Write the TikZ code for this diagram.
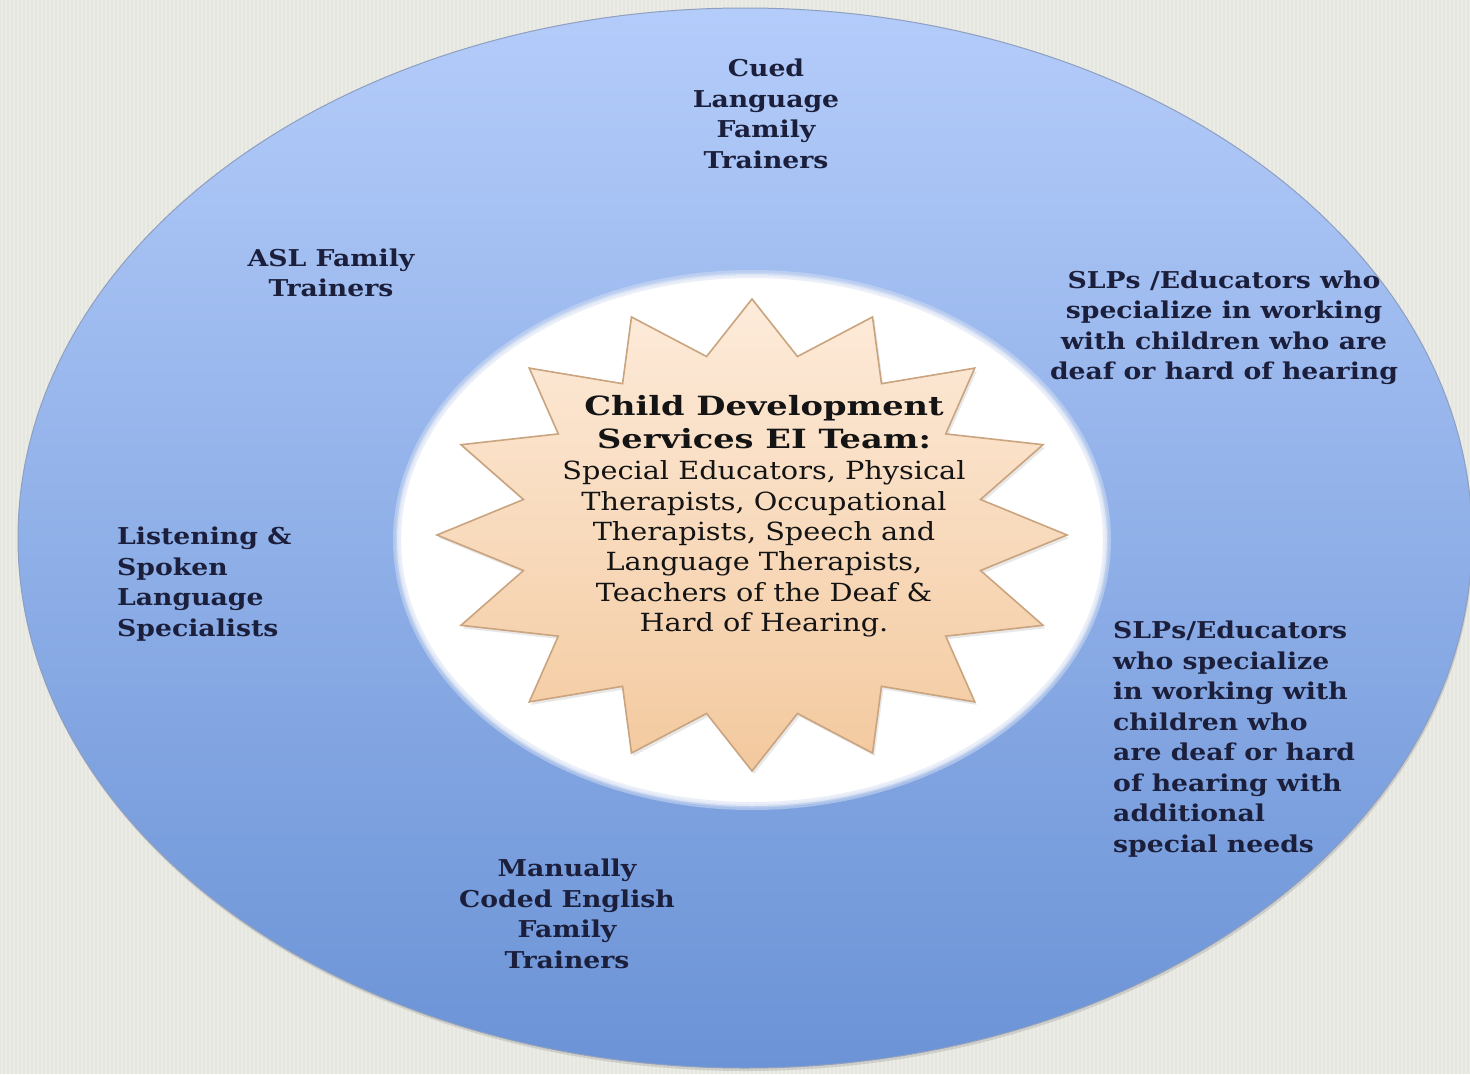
\documentclass[tikz,border=0pt]{standalone}
\usepackage{fontspec}
\setmainfont[FakeStretch=1.15]{DejaVu Serif}
\newfontfamily\titlefont[FakeStretch=1.27]{DejaVu Serif}
\usetikzlibrary{shadows}
\definecolor{bgcol}{HTML}{ECECE6}
\definecolor{outertop}{HTML}{B4CCFA}
\definecolor{outerbot}{HTML}{6B93D6}
\definecolor{outeredge}{HTML}{8E9FBF}
\definecolor{inneredge}{HTML}{D4DFF3}
\definecolor{startop}{HTML}{FDEBDA}
\definecolor{starbot}{HTML}{F3C99E}
\definecolor{staredge}{HTML}{C9A47F}
\definecolor{navy}{HTML}{1B1F3B}
\definecolor{inktext}{HTML}{141414}
\begin{document}
\begin{tikzpicture}[x=1pt,y=-1pt,
  outerlabel/.style={font=\fontsize{23.2}{30.5}\selectfont\bfseries, text=navy, inner sep=0pt},
  titlelabel/.style={font=\titlefont\fontsize{26.5}{33}\selectfont\bfseries, text=inktext, inner sep=0pt, align=center},
  bodylabel/.style={font=\fontsize{25}{30.4}\selectfont, text=inktext, inner sep=0pt, align=center},
  ring/.style={top color=outertop, bottom color=outerbot, draw=outeredge, line width=1pt,
    drop shadow={opacity=0.25, shadow xshift=1pt, shadow yshift=-3pt}},
  hole/.style={fill=white},
  holeglow/.style={draw=inneredge, line width=#1, opacity=0.5},
  starshape/.style={top color=startop, bottom color=starbot, draw=staredge, line width=1.6pt,
    drop shadow={opacity=0.18, shadow xshift=2pt, shadow yshift=-3pt}}]
\fill[bgcol] (0,0) rectangle (1470,1074);
\useasboundingbox (0,0) rectangle (1470,1074);
\foreach \k in {0,4,...,1468} {\draw[black, opacity=0.025, line width=1.2pt] (\k,0) -- (\k,1074);}
% outer ring
\path[ring] (745,538) ellipse [x radius=727, y radius=530];
% inner white area with soft edge
\path[hole] (752,540) ellipse [x radius=355, y radius=266];
\path[holeglow=8pt] (752,540) ellipse [x radius=355, y radius=266];
\path[holeglow=3pt] (752,540) ellipse [x radius=355, y radius=266];
% star burst
\path[starshape, shift={(752,535)}] (90:315 and 236)
  \foreach \i in {0,...,15} { -- ({101.25+22.5*\i}:233 and 182) -- ({112.5+22.5*\i}:315 and 236) } -- cycle;
% labels
\node[outerlabel, align=center] (cued) at (766,114) {Cued\\Language\\Family\\Trainers};
\node[outerlabel, align=center] (asl) at (331,273) {ASL Family\\Trainers};
\node[outerlabel, align=center] (slp1) at (1224,328) {SLPs /Educators who\\specialize in working\\with children who are\\deaf or hard of hearing};
\node[outerlabel, align=left, anchor=west] (lsl) at (117,584) {Listening \&\\Spoken\\Language\\Specialists};
\node[outerlabel, align=left, anchor=west] (slp2) at (1113,739) {SLPs/Educators\\who specialize\\in working with\\children who\\are deaf or hard\\of hearing with\\additional\\special needs};
\node[outerlabel, align=center] (mce) at (567,914) {Manually\\Coded English\\Family\\Trainers};
\node[titlelabel] (ctitle) at (764,422) {Child Development\\Services EI Team:};
\node[bodylabel] (cbody) at (764,549) {Special Educators, Physical\\Therapists, Occupational\\Therapists, Speech and\\Language Therapists,\\Teachers of the Deaf \&\\Hard of Hearing.};
\end{tikzpicture}
\end{document}
